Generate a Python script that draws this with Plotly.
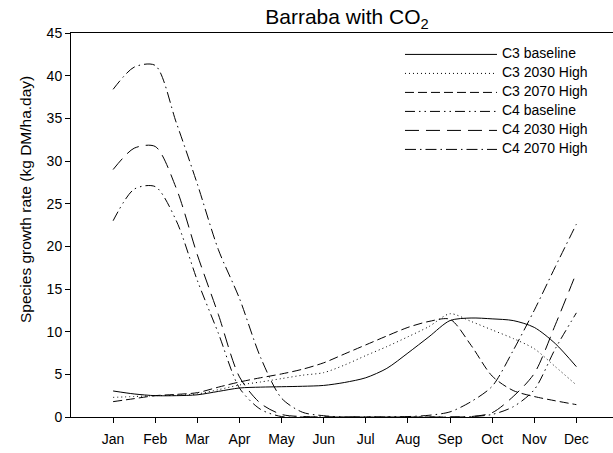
import plotly.graph_objects as go

# Month positions (half-month steps) and labels
months = [1, 1.5, 2, 2.5, 3, 3.5, 4, 4.5, 5, 5.5, 6, 6.5, 7, 7.5, 8, 8.5,
          9, 9.5, 10, 10.5, 11, 11.5, 12]
tick_vals = [1, 2, 3, 4, 5, 6, 7, 8, 9, 10, 11, 12]
tick_text = ["Jan", "Feb", "Mar", "Apr", "May", "Jun", "Jul", "Aug", "Sep",
             "Oct", "Nov", "Dec"]

# Growth rates (kg DM/ha.day)
c3_baseline = [3.05, 2.7, 2.5, 2.5, 2.6, 3.0, 3.4, 3.5, 3.55, 3.6, 3.7, 4.05,
               4.6, 5.7, 7.5, 9.4, 11.3, 11.6, 11.5, 11.3, 10.5, 8.6, 5.9]
c3_2030 = [2.3, 2.4, 2.5, 2.55, 2.7, 3.2, 3.75, 4.1, 4.5, 4.9, 5.2, 6.1,
           7.2, 8.25, 9.4, 10.6, 12.1, 11.2, 10.2, 9.2, 8.0, 5.9, 3.75]
c3_2070 = [1.8, 2.15, 2.5, 2.65, 2.85, 3.5, 4.1, 4.6, 5.05, 5.6, 6.35, 7.4,
           8.45, 9.5, 10.5, 11.2, 11.45, 8.4, 4.8, 3.1, 2.4, 1.9, 1.45]
c4_baseline = [23.0, 26.7, 27.0, 23.0, 16.0, 9.8, 3.4, 0.9, 0.05, 0.0, 0.0, 0.0,
               0.0, 0.0, 0.0, 0.0, 0.0, 0.05, 0.3, 1.2, 3.2, 8.0, 12.2]
c4_2030 = [29.0, 31.5, 31.7, 26.8, 19.0, 12.0, 4.7, 1.6, 0.3, 0.05, 0.0, 0.0,
           0.0, 0.0, 0.0, 0.0, 0.0, 0.05, 0.5, 2.4, 5.1, 10.8, 16.9]
c4_2070 = [38.4, 41.0, 41.2, 34.5, 27.3, 19.6, 13.9, 7.0, 2.2, 0.55, 0.15, 0.0,
           0.0, 0.0, 0.05, 0.2, 0.6, 1.8, 3.6, 7.8, 12.5, 17.6, 22.6]

series = [
    ("C3 baseline", c3_baseline, "solid"),
    ("C3 2030 High", c3_2030, "1px,3px"),
    ("C3 2070 High", c3_2070, "9px,4px"),
    ("C4 baseline", c4_baseline, "10px,4px,1.5px,4px,1.5px,4px"),
    ("C4 2030 High", c4_2030, "14px,7px"),
    ("C4 2070 High", c4_2070, "11px,4px,1.5px,4px"),
]

fig = go.Figure()
for name, vals, dash in series:
    fig.add_trace(go.Scatter(
        x=months, y=vals, mode="lines",
        # compact legend rows: small legend font, larger label text
        name=f'<span style="font-size:14px">{name}</span>',
        line=dict(color="black", width=1, dash=dash, shape="spline", smoothing=0.8),
    ))

font = "Liberation Sans, Arial, sans-serif"
fig.update_layout(
    width=613, height=453,
    margin=dict(l=71, r=0, t=33, b=36),
    paper_bgcolor="white", plot_bgcolor="white",
    font=dict(family=font, size=14, color="black"),
    title=dict(text="Barraba with CO<sub>2</sub>", x=0.566, xanchor="center",
               y=1 - 17 / 453, yanchor="middle", yref="container",
               font=dict(size=21, family=font, color="black")),
    showlegend=True,
    legend=dict(x=0.607, y=0.982, xanchor="left", yanchor="top",
                bgcolor="rgba(0,0,0,0)", font=dict(size=10), itemwidth=92,
                tracegroupgap=0),
    xaxis=dict(range=[0, 12.87], tickmode="array", tickvals=tick_vals,
               ticktext=tick_text, ticks="outside", ticklen=5, tickwidth=1,
               tickcolor="black", showline=True, linecolor="black", linewidth=1,
               mirror=True, showgrid=False, zeroline=False,
               tickfont=dict(size=14), ticklabelstandoff=4),
    yaxis=dict(range=[0, 45], dtick=5, ticks="outside", ticklen=5, tickwidth=1,
               tickcolor="black", showline=True, linecolor="black", linewidth=1,
               showgrid=False, zeroline=False, tickfont=dict(size=14)),
    annotations=[dict(text="Species growth rate (kg DM/ha.day)", textangle=-90,
                      xref="paper", yref="paper", x=(25 - 71) / 542,
                      y=(417 - 200) / 384, xanchor="center", yanchor="middle",
                      showarrow=False, font=dict(size=15.5))],
)

fig.write_html("out.html")
